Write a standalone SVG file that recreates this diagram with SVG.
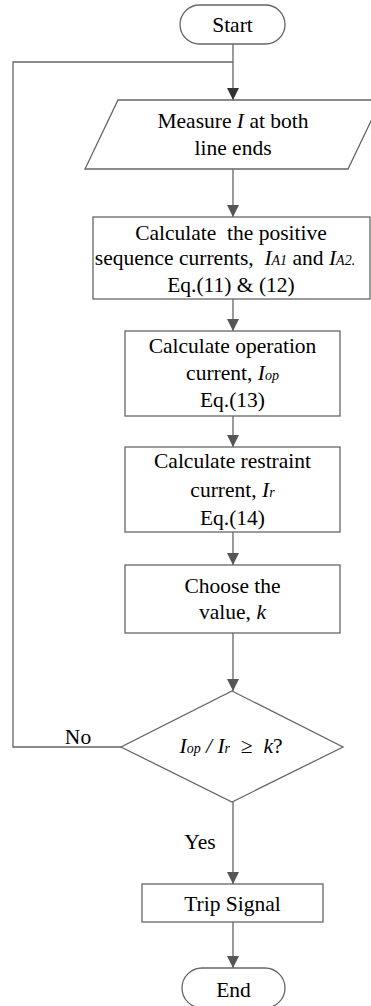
<svg xmlns="http://www.w3.org/2000/svg" width="371" height="1006" viewBox="0 0 371 1006">
<defs>
<style>
.s{fill:#fff;stroke:#666;stroke-width:1.3}
.c{fill:none;stroke:#666;stroke-width:1.3}
.t{font-family:"Liberation Serif","Times New Roman",serif;font-size:21.5px;fill:#000;text-anchor:middle}
.i{font-style:italic}
.sb{font-style:italic;font-size:14px}
</style>
<marker id="ah" viewBox="0 0 10 10" refX="10" refY="5" markerWidth="12" markerHeight="12" markerUnits="userSpaceOnUse" orient="auto">
<path d="M0,0 L10,5 L0,10 z" fill="#555"/>
</marker>
<marker id="ah2" viewBox="0 0 10 10" refX="10" refY="5" markerWidth="12" markerHeight="12" markerUnits="userSpaceOnUse" orient="auto">
<path d="M0,0 L10,5 L0,10 z" fill="#333"/>
</marker>
</defs>
<g id="connectors">
<path class="c" d="M233,44 V100" stroke="#444" marker-end="url(#ah2)"/>
<path class="c" d="M233,169 V217" marker-end="url(#ah)"/>
<path class="c" d="M233,299 V331" marker-end="url(#ah)"/>
<path class="c" d="M233,416 V447" marker-end="url(#ah)"/>
<path class="c" d="M233,532 V565" marker-end="url(#ah)"/>
<path class="c" d="M233,633 V691" marker-end="url(#ah)"/>
<path class="c" d="M233,802 V884" marker-end="url(#ah)"/>
<path class="c" d="M233,922 V968" marker-end="url(#ah)"/>
<path class="c" d="M121,747 H13 V62 H233"/>
<text class="t" x="78" y="744">No</text>
<text class="t" x="200" y="849">Yes</text>
</g>
<g id="start">
<rect class="s" x="180" y="5" width="105" height="39" rx="19.5"/>
<text class="t" x="232.5" y="32">Start</text>
</g>
<g id="measure">
<polygon class="s" points="118,100 381,100 348,169 85,169"/>
<text class="t" x="233" y="128">Measure <tspan class="i">I</tspan> at both</text>
<text class="t" x="233" y="155">line ends</text>
</g>
<g id="positive">
<rect class="s" x="93" y="217" width="277" height="82"/>
<text class="t" x="231" y="240" xml:space="preserve">Calculate  the positive</text>
<text class="t" x="225" y="265" xml:space="preserve">sequence currents,  <tspan class="i">I</tspan><tspan class="sb">A1</tspan> and <tspan class="i">I</tspan><tspan class="sb">A2.</tspan></text>
<text class="t" x="231" y="292">Eq.(11) &amp; (12)</text>
</g>
<g id="operation">
<rect class="s" x="125" y="331" width="215" height="85"/>
<text class="t" x="232.5" y="353">Calculate operation</text>
<text class="t" x="232.5" y="380">current, <tspan class="i">I</tspan><tspan class="sb">op</tspan></text>
<text class="t" x="232.5" y="407">Eq.(13)</text>
</g>
<g id="restraint">
<rect class="s" x="125" y="447" width="215" height="85"/>
<text class="t" x="232.5" y="468">Calculate restraint</text>
<text class="t" x="232.5" y="497">current, <tspan class="i">I</tspan><tspan class="sb">r</tspan></text>
<text class="t" x="232.5" y="525">Eq.(14)</text>
</g>
<g id="choose">
<rect class="s" x="125" y="565" width="215" height="68"/>
<text class="t" x="232.5" y="593">Choose the</text>
<text class="t" x="232.5" y="619">value, <tspan class="i">k</tspan></text>
</g>
<g id="decision">
<polygon class="s" points="232,691 343,747 232,802 121,747"/>
<text class="t" x="231" y="753" xml:space="preserve"><tspan class="i">I</tspan><tspan class="sb">op</tspan> <tspan class="i">/</tspan> <tspan class="i">I</tspan><tspan class="sb">r</tspan>  ≥  <tspan class="i">k</tspan>?</text>
</g>
<g id="trip">
<rect class="s" x="142" y="884" width="181" height="38"/>
<text class="t" x="232.5" y="911">Trip Signal</text>
</g>
<g id="end">
<rect class="s" x="182" y="968" width="103" height="40" rx="20"/>
<text class="t" x="233.5" y="997">End</text>
</g>
</svg>
